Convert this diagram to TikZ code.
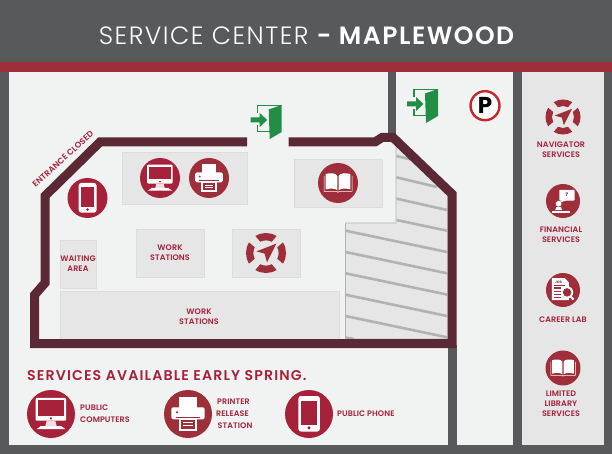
\documentclass[tikz,border=0pt]{standalone}
\usepackage{fontspec}
\setmainfont{Poppins}
\newfontfamily\titlelight[LetterSpace=6]{Poppins Light}
\newfontfamily\titlebold[LetterSpace=6]{Poppins SemiBold}
\newfontfamily\headfont[LetterSpace=8]{Poppins SemiBold}
\newfontfamily\labelfont[LetterSpace=1]{Poppins SemiBold}
\usetikzlibrary{calc}
\definecolor{roadgray}{HTML}{58595B}
\definecolor{bandred}{HTML}{9E2F3A}
\definecolor{groundgray}{HTML}{F1F3F2}
\definecolor{boxgray}{HTML}{E6E6E6}
\definecolor{edgegray}{HTML}{DCDCDC}
\definecolor{stripegray}{HTML}{B1B3B3}
\definecolor{wallred}{HTML}{5A2933}
\definecolor{textred}{HTML}{A6213A}
\definecolor{exitgreen}{HTML}{218D45}
\definecolor{signred}{HTML}{C1272D}
\tikzset{
	roombox/.style={fill=boxgray,draw=edgegray,line width=0.6pt},
	wall/.style={draw=wallred,line width=9pt,miter limit=10},
	stripe/.style={draw=stripegray,line width=2.6pt},
	maplabel/.style={text=textred,align=center,inner sep=0pt,font={\labelfont\fontsize{8}{9.8}\selectfont}},
	pics/compicon/.style={code={
		\fill[textred] (0,0) circle (1);
		\fill[white,rounded corners=1pt] (-.64,-.67) rectangle (.63,.28);
		\fill[textred] (-.55,-.57) rectangle (.55,.07);
		\fill[textred] (0,.18) circle (.05);
		\fill[white!85!textred] (-.18,.28) -- (.18,.28) -- (.24,.52) -- (-.24,.52) -- cycle;
		\fill[white] (-.42,.5) -- (.42,.5) -- (.6,.63) -- (-.6,.63) -- cycle;
	}},
	pics/printicon/.style={code={
		\fill[bandred] (0,0) circle (1);
		\fill[white] (-.37,-.69) rectangle (.37,-.2);
		\fill[white,rounded corners=1.5pt] (-.69,-.28) rectangle (.69,.22);
		\fill[bandred] (-.46,-.07) circle (.05);
		\draw[bandred,line width=.4pt] (-.52,.12) -- (.52,.12);
		\fill[white] (-.39,.17) rectangle (.39,.69);
		\fill[bandred] (-.31,.24) rectangle (.31,.62);
		\fill[white] (-.22,.33) rectangle (.22,.37);
		\fill[white] (-.22,.45) rectangle (.22,.49);
	}},
	pics/phoneicon/.style={code={
		\fill[textred] (0,0) circle (1);
		\fill[white,rounded corners=2.5pt] (-.44,-.75) rectangle (.45,.73);
		\fill[textred] (-.32,-.54) rectangle (.33,.45);
		\fill[textred] (0,.58) circle (.07);
	}},
	pics/bookicon/.style={code={
		\fill[bandred] (0,0) circle (1);
		\draw[white,line width=.5pt] (-.7,-.35) -- (-.7,.42) -- (-.06,.42) -- (0,.47) -- (.06,.42) -- (.7,.42) -- (.7,-.35);
		\fill[white] (-.62,-.45) .. controls (-.35,-.52) and (-.12,-.5) .. (-.03,-.35) -- (-.03,.36) .. controls (-.15,.26) and (-.4,.26) .. (-.62,.32) -- cycle;
		\fill[white] (.62,-.45) .. controls (.35,-.52) and (.12,-.5) .. (.03,-.35) -- (.03,.36) .. controls (.15,.26) and (.4,.26) .. (.62,.32) -- cycle;
	}},
	pics/navicon/.style={code={
		\foreach \a in {0,90,180,270}
			\fill[bandred] (\a-32:1) arc (\a-32:\a+32:1) -- (\a+27:.63) arc (\a+27:\a-27:.63) -- cycle;
		\fill[bandred] (.52,-.47) -- (-.48,-.08) -- (-.07,.03) -- (.05,.47) -- cycle;
	}},
	pics/advisoricon/.style={code={
		\fill[bandred] (0,0) circle (1);
		\fill[white,rounded corners=.8pt] (-.22,-.66) rectangle (.68,-.02);
		\fill[white] (-.05,-.05) -- (-.28,.14) -- (.2,-.05) -- cycle;
		\node[text=bandred,inner sep=0pt,font={\fontsize{5}{5}\selectfont\bfseries}] (qmark) at (.23,-.35) {?};
		\fill[white] (-.26,.16) circle (.17);
		\fill[white] (-.46,.54) -- (-.4,.36) -- (-.12,.36) -- (-.06,.54) -- cycle;
		\fill[white] (-.62,.58) rectangle (.44,.72);
	}},
	pics/jobicon/.style={code={
		\fill[bandred] (0,0) circle (1);
		\fill[white] (-.66,-.7) -- (.1,-.7) -- (.34,-.45) -- (.34,.6) -- (-.66,.6) -- cycle;
		\node[text=bandred,inner sep=0pt,font={\fontsize{3.4}{3.4}\selectfont\bfseries}] (jobword) at (-.27,-.48) {JOB};
		\foreach \y in {-.15,.05,.25,.42}
			\fill[bandred] (-.52,\y) rectangle (-.1,\y+.07);
		\fill[bandred] (-.52,-.3) rectangle (.1,-.23);
		\draw[white,line width=2pt] (.42,.34) -- (.62,.56);
		\fill[white] (.24,.14) circle (.36);
		\fill[bandred] (.24,.14) circle (.25);
	}},
	pics/exiticon/.style={code={
		\draw[exitgreen,line width=1.5pt] (7,8) -- (7,.75) -- (31,.75);
		\draw[exitgreen,line width=1.5pt] (7,20) -- (7,26.5) -- (20,26.5);
		\fill[exitgreen] (18,4.5) -- (31,0) -- (31,27) -- (19,34) -- cycle;
		\fill[exitgreen] (0,12.5) -- (9,12.5) -- (9,8) -- (16.5,15) -- (9,22) -- (9,17.5) -- (0,17.5) -- cycle;
	}}
}
\begin{document}
\begin{tikzpicture}[x=1pt,y=-1pt]
	\useasboundingbox (0,0) rectangle (612,454);
	\fill[roadgray] (0,0) rectangle (612,454);
	\fill[bandred] (0,62) rectangle (612,72);
	\fill[groundgray] (9,72) rectangle (513,445);
	\fill[roadgray] (388,72) rectangle (396,136);
	\fill[roadgray] (447.5,345) rectangle (457,445);
	\fill[boxgray] (522,72) rectangle (604,445);
	\node[text=white,inner sep=0pt,font=\fontsize{25}{27}\selectfont] (title) at (306.5,36) {\titlelight SERVICE CENTER \titlebold - MAPLEWOOD};
	
	\draw[roombox] (122,152) rectangle (247,204);
	\draw[roombox] (294,159) rectangle (382,207);
	\draw[roombox] (136,229) rectangle (204,277);
	\draw[roombox] (232,229) rectangle (300,277);
	\draw[roombox] (60,240) rectangle (96,288);
	\draw[roombox] (60,291) rectangle (339,339);
	
	\draw[fill=boxgray,draw=stripegray,line width=.7pt] (396,142) -- (396,223) -- (345.5,223) -- (345.5,339) -- (448,339) -- (448,193) -- cycle;
	\draw[stripe] (396.5,156) -- (413,160);
	\draw[stripe] (396.5,177.3) -- (436.7,187);
	\draw[stripe] (396.5,198.7) -- (447,210);
	\draw[stripe] (396.5,220) -- (447,230.7);
	\foreach \y in {230.7,252,273.3,294.7,316}
		\draw[stripe] (345.5,\y) -- (447,\y+21.3);
	\draw[stripe] (345.5,337.5) -- (354,339);
	
	\draw[wall] (247,142) -- (100,142) -- (45,196) -- (45,283) -- (34.5,295) -- (34.5,343.5) -- (452,343.5) -- (452,194) -- (393,137.5) -- (382,137.5) -- (375,142) -- (288.5,142);
	
	\pic at (250.7,105) {exiticon};
	\pic at (407,89) {exiticon};
	\draw[fill=white,draw=signred,line width=2.4pt] (485,105.7) circle (14.5);
	\node[inner sep=0pt,font={\fontsize{23}{23}\selectfont\bfseries}] (parking) at (485,105) {P};
	
	\node[maplabel,rotate=42,font={\labelfont\fontsize{8.3}{10}\selectfont}] (closed) at (63,159) {ENTRANCE CLOSED};
	\node[maplabel] (waiting) at (78,264) {WAITING\\AREA};
	\node[maplabel] (workone) at (170,253) {WORK\\STATIONS};
	\node[maplabel] (worktwo) at (199,317) {WORK\\STATIONS};
	
	\pic[scale=20] at (87.5,198) {phoneicon};
	\pic[scale=20] at (160,178) {compicon};
	\pic[scale=20] at (209,178) {printicon};
	\pic[scale=20] at (338,183) {bookicon};
	\pic[scale=20] at (266,253) {navicon};
	
	\pic[scale=17.5] at (563,117) {navicon};
	\pic[scale=17] at (563,201) {advisoricon};
	\pic[scale=17] at (563,290) {jobicon};
	\pic[scale=17.5] at (563,368) {bookicon};
	\node[maplabel] (navigator) at (561,149.5) {NAVIGATOR\\SERVICES};
	\node[maplabel] (financial) at (561,234.5) {FINANCIAL\\SERVICES};
	\node[maplabel] (career) at (563,320) {CAREER LAB};
	\node[maplabel] (library) at (561,403.5) {LIMITED\\LIBRARY\\SERVICES};
	
	\node[text=textred,anchor=west,inner sep=0pt,font={\headfont\fontsize{14.15}{15}\selectfont}] (soon) at (27,376) {SERVICES AVAILABLE EARLY SPRING.};
	\pic[scale=24] at (51,414) {compicon};
	\pic[scale=24] at (188,414) {printicon};
	\pic[scale=24] at (309,414) {phoneicon};
	\node[maplabel,anchor=west] (pubcomp) at (80,408) {PUBLIC};
	\node[maplabel,anchor=west] (pubcomptwo) at (80,420) {COMPUTERS};
	\node[maplabel,anchor=west] (printer) at (217,402) {PRINTER};
	\node[maplabel,anchor=west] (release) at (216,414) {RELEASE};
	\node[maplabel,anchor=west] (station) at (217.5,426) {STATION};
	\node[maplabel,anchor=west] (pubphone) at (337,414) {PUBLIC PHONE};
\end{tikzpicture}
\end{document}
